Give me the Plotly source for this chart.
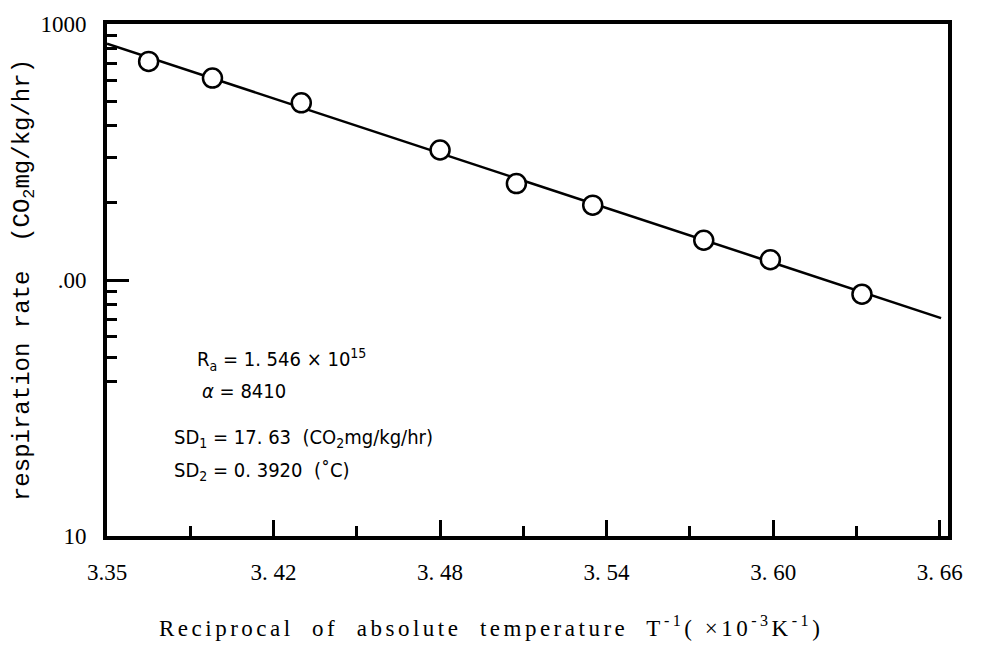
import plotly.graph_objects as go

# data (x in 10^-3 K^-1, y in CO2 mg/kg/hr)
inv_temp = [3.375, 3.398, 3.430, 3.480, 3.5075, 3.535, 3.575, 3.599, 3.632]
resp_rate = [714, 615, 492, 322, 238, 196, 143, 120, 88]
fit_x = [3.36, 3.6605]
fit_y = [838, 71]

x_tickvals = [3.36, 3.42, 3.48, 3.54, 3.60, 3.66]
x_ticktext = ["3.35", "3. 42", "3. 48", "3. 54", "3. 60", "3. 66"]
x_minor = [3.39, 3.45, 3.51, 3.57, 3.63]
y_tickvals = [10, 100, 1000]
y_ticktext = ["10", ".00", "1000"]
y_minor = [40, 50, 60, 70, 80, 90, 200, 300, 400, 500, 600, 700, 800, 900]

W, H = 983, 651
ML, MR, MT, MB = 107, 35, 17, 115
pw, ph = W - ML - MR, H - MT - MB

fig = go.Figure()
fig.add_trace(go.Scatter(x=fit_x, y=fit_y, mode="lines",
                         line=dict(color="black", width=2.5), showlegend=False))
fig.add_trace(go.Scatter(x=inv_temp, y=resp_rate, mode="markers",
                         marker=dict(symbol="circle", size=19, color="white",
                                     line=dict(color="black", width=2.5)),
                         showlegend=False))

serif = "Liberation Serif, Times New Roman, serif"
narrow = "DejaVu Sans Condensed, Liberation Sans Narrow, Liberation Sans"

fig.update_layout(
    width=W, height=H,
    margin=dict(l=ML, r=MR, t=MT, b=MB),
    plot_bgcolor="white", paper_bgcolor="white",
    xaxis=dict(
        range=[3.36, 3.663], tickmode="array", tickvals=x_tickvals, ticktext=x_ticktext,
        ticks="inside", ticklen=16, tickwidth=3, tickcolor="black",
        showline=True, linecolor="black", linewidth=4, mirror=True,
        showgrid=False, zeroline=False, ticklabelstandoff=12,
        tickfont=dict(family=serif, size=23, color="black"),
        minor=dict(tickmode="array", tickvals=x_minor, ticks="inside", ticklen=10,
                   tickwidth=3, tickcolor="black", showgrid=False),
    ),
    yaxis=dict(
        type="log", range=[1, 3], tickmode="array", tickvals=y_tickvals, ticktext=y_ticktext,
        ticks="inside", ticklen=22, tickwidth=3, tickcolor="black",
        showline=True, linecolor="black", linewidth=4, mirror=True,
        showgrid=False, zeroline=False, ticklabelstandoff=12,
        tickfont=dict(family=serif, size=23, color="black"),
        minor=dict(tickmode="array", tickvals=y_minor, ticks="inside", ticklen=10,
                   tickwidth=3, tickcolor="black", showgrid=False),
        title=dict(text="respiration rate  (CO<sub>2</sub>mg/kg/hr)",
                   font=dict(family="Liberation Mono", size=24, color="black"), standoff=5),
    ),
)

# x-axis title placed as an annotation (offset to the left like the reference)
fig.add_annotation(
    x=(491 - ML) / pw, y=-(628 - MT - ph) / ph, xref="paper", yref="paper",
    text="<span style='letter-spacing:3.5px'>Reciprocal  of  absolute  temperature  T<sup>-1</sup>( ×10<sup>-3</sup>K<sup>-1</sup>)</span>",
    showarrow=False, xanchor="center", yanchor="middle",
    font=dict(family=serif, size=23, color="black"))

notes = [
    (195, 357, "R<sub>a</sub> = 1. 546 × 10<sup>15</sup>"),
    (200, 389, "<i>α</i> = 8410"),
    (172, 437, "SD<sub>1</sub> = 17. 63  (CO<sub>2</sub>mg/kg/hr)"),
    (172, 470, "SD<sub>2</sub> = 0. 3920  (˚C)"),
]
for px, py, txt in notes:
    fig.add_annotation(x=(px - ML) / pw, y=1 - (py - MT) / ph, xref="paper", yref="paper",
                       text=txt, showarrow=False, xanchor="left", yanchor="middle",
                       font=dict(family=narrow, size=20, color="black"))

fig.write_html("out.html")
